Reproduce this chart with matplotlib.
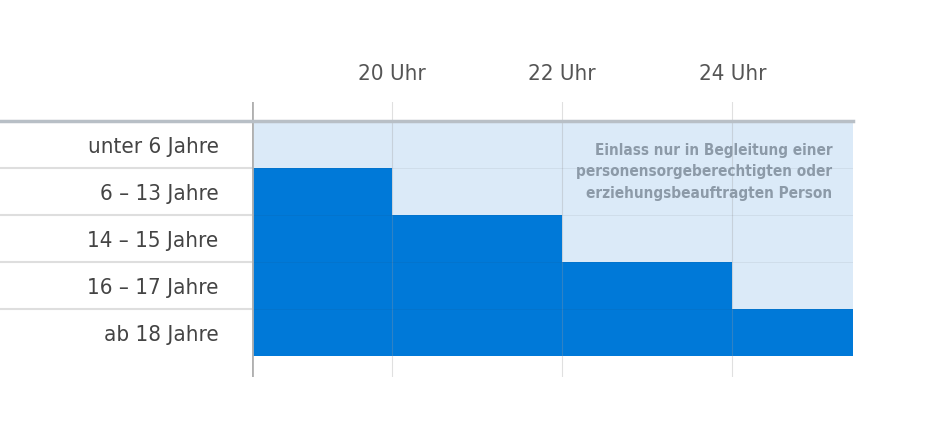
import matplotlib
matplotlib.use("Agg")
import matplotlib.pyplot as plt

plt.rcParams['font.family'] = ['DejaVu Sans']
plt.rcParams['font.stretch'] = 'condensed'

categories = ['unter 6 Jahre', '6 – 13 Jahre', '14 – 15 Jahre', '16 – 17 Jahre', 'ab 18 Jahre']
x_start = 18.35
x_end = 25.42
# allowed until (hour); x_start = none, x_end = no limit
until = [x_start, 20, 22, 24, x_end]
tick_hours = [20, 22, 24]
tick_labels = ['20 Uhr', '22 Uhr', '24 Uhr']
note = 'Einlass nur in Begleitung einer\npersonensorgeberechtigten oder\nerziehungsbeauftragten Person'

dark = '#0079d8'
light = '#dbeaf8'

fig = plt.figure(figsize=(9.52, 4.35), dpi=100)
ax = fig.add_axes([252 / 952, 1 - 378 / 435, 601 / 952, 275 / 435])

rows = list(range(len(categories)))
ax.barh(rows, [x_end - x_start] * len(rows), left=x_start, height=1.0, color=light, zorder=1)
ax.barh(rows, [u - x_start for u in until], left=x_start, height=1.0, color=dark, zorder=2)

ax.set_xlim(x_start, x_end)
ax.set_ylim(4.947, -0.904)

# grid lines
for h in tick_hours:
    ax.axvline(h, color='#9a9a9a', lw=0.8, alpha=0.3, zorder=3)
ax.axvline(x_start, color='#b0b0b0', lw=2, zorder=4)

# row separators on the left
ytr = ax.get_yaxis_transform()
for b in [0.5, 1.5, 2.5, 3.5]:
    ax.plot([-0.42, 0], [b, b], transform=ytr, color='#dedede', lw=1.5, clip_on=False, zorder=3)
    ax.plot([0, 1], [b, b], transform=ytr, color='#333333', lw=0.6, alpha=0.08, zorder=3)
ax.plot([-0.42, 1], [-0.5, -0.5], transform=ytr, color='#b8bfc6', lw=2.5, clip_on=False, zorder=4)

ax.set_yticks(rows)
ax.set_yticklabels(categories, fontsize=16, color='#444444')
ax.tick_params(axis='y', length=0, pad=24)

ax.set_xticks(tick_hours)
ax.set_xticklabels(tick_labels, fontsize=16, color='#555555')
ax.xaxis.tick_top()
ax.tick_params(axis='x', length=0, pad=14)

for s in ax.spines.values():
    s.set_visible(False)

ax.text(25.18, -0.06, note, ha='right', va='top', fontsize=11, color='#8c9aa8',
        fontweight='semibold', linespacing=1.55, zorder=5)

fig.savefig('out.png', dpi=100)
